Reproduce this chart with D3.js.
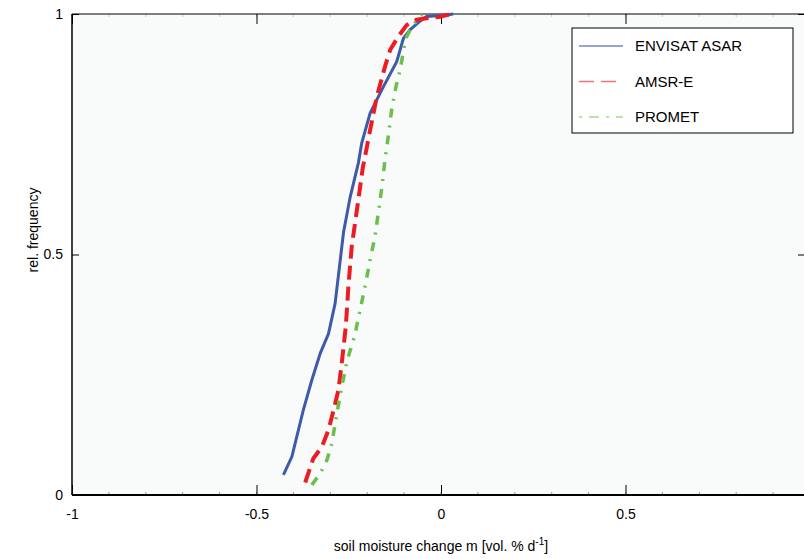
<!DOCTYPE html>
<html>
<head>
<meta charset="utf-8">
<script src="https://cdn.jsdelivr.net/npm/d3@7"></script>
<style>
  body { margin: 0; background: #fff; }
  svg { display: block; font-family: "Liberation Sans", Arial, sans-serif; }
</style>
</head>
<body>
<div id="chart"></div>
<script>
// cumulative distributions of soil moisture change
var seriesNames = ["ENVISAT ASAR", "AMSR-E", "PROMET"];
var seriesColors = ["#3f5aa8", "#ec1c24", "#6cbf4a"];
var legendColors = ["#7088c8", "#f07078", "#a2d88e"];

var asarX = [-0.427, -0.404, -0.373, -0.350, -0.327, -0.305, -0.287, -0.264, -0.246, -0.224, -0.215, -0.192, -0.156, -0.120, -0.102, -0.084, -0.057, -0.039, 0.015, 0.033];
var asarY = [0.042, 0.080, 0.177, 0.239, 0.295, 0.335, 0.398, 0.547, 0.620, 0.690, 0.731, 0.794, 0.849, 0.901, 0.949, 0.967, 0.985, 0.995, 0.998, 1.0];

var amsrX = [-0.368, -0.346, -0.323, -0.305, -0.291, -0.278, -0.269, -0.258, -0.251, -0.242, -0.228, -0.212, -0.192, -0.174, -0.152, -0.138, -0.116, -0.093, -0.066, -0.039, -0.003, 0.015, 0.038];
var amsrY = [0.026, 0.076, 0.100, 0.135, 0.177, 0.218, 0.274, 0.350, 0.433, 0.516, 0.592, 0.680, 0.759, 0.828, 0.890, 0.925, 0.953, 0.977, 0.988, 0.991, 0.994, 0.998, 1.0];

var prometX = [-0.350, -0.327, -0.309, -0.296, -0.282, -0.269, -0.255, -0.246, -0.233, -0.228, -0.206, -0.192, -0.179, -0.170, -0.160, -0.152, -0.143, -0.134, -0.122, -0.113, -0.106, -0.102, -0.093, -0.079, -0.066, -0.052];
var prometY = [0.021, 0.045, 0.073, 0.107, 0.170, 0.225, 0.277, 0.301, 0.333, 0.353, 0.433, 0.489, 0.537, 0.586, 0.641, 0.696, 0.745, 0.800, 0.849, 0.877, 0.904, 0.925, 0.953, 0.974, 0.985, 0.998];

var xTicks = [-1, -0.5, 0, 0.5];
var yTicks = [0, 0.5, 1];

var width = 804, height = 559;
var pLeft = 72, pRight = 810, pTop = 14, pBottom = 495;

var svg = d3.select("#chart").append("svg")
    .attr("width", width).attr("height", height);

var x = d3.scaleLinear().domain([-1, 1]).range([pLeft, pRight]);
var y = d3.scaleLinear().domain([0, 1]).range([pBottom, pTop]);

function fmt(d){ return String(d); }

// plot background
svg.append("rect").attr("x", pLeft).attr("y", pTop)
    .attr("width", pRight - pLeft).attr("height", pBottom - pTop)
    .attr("fill", "#f8fbfa");

// minor ticks
var minor = d3.range(-10, 10).map(function(d){ return d / 10; });
svg.append("g").selectAll("line").data(minor).enter().append("line")
    .attr("x1", function(d){ return x(d); }).attr("x2", function(d){ return x(d); })
    .attr("y1", pBottom).attr("y2", pBottom - 3)
    .attr("stroke", "#999").attr("stroke-width", 1);
svg.append("g").selectAll("line").data(minor).enter().append("line")
    .attr("x1", function(d){ return x(d); }).attr("x2", function(d){ return x(d); })
    .attr("y1", pTop).attr("y2", pTop + 3)
    .attr("stroke", "#ccc").attr("stroke-width", 1);

// bottom axis
var xAxis = svg.append("g").attr("transform", "translate(0," + pBottom + ")")
    .call(d3.axisBottom(x).tickValues(xTicks).tickSize(-10).tickPadding(14).tickFormat(fmt));
xAxis.select(".domain").remove();
xAxis.selectAll("text").attr("font-size", 14).attr("fill", "#000")
    .attr("font-family", "Liberation Sans, Arial, sans-serif");
xAxis.selectAll("line").attr("stroke", "#000");

// top ticks (inside)
var xTop = svg.append("g").attr("transform", "translate(0," + pTop + ")")
    .call(d3.axisTop(x).tickValues(xTicks).tickSize(-10).tickFormat(""));
xTop.select(".domain").remove();
xTop.selectAll("line").attr("stroke", "#000");

// left axis
var yAxis = svg.append("g").attr("transform", "translate(" + pLeft + ",0)")
    .call(d3.axisLeft(y).tickValues(yTicks).tickSize(-7).tickPadding(9).tickFormat(fmt));
yAxis.select(".domain").remove();
yAxis.selectAll("text").attr("font-size", 14).attr("fill", "#000")
    .attr("font-family", "Liberation Sans, Arial, sans-serif");
yAxis.selectAll("line").attr("stroke", "#000");

// right ticks
var yRight = svg.append("g").attr("transform", "translate(" + (pRight - 4) + ",0)")
    .call(d3.axisRight(y).tickValues(yTicks).tickSize(-8).tickFormat(""));
yRight.select(".domain").remove();
yRight.selectAll("line").attr("stroke", "#000");

// frame
svg.append("line").attr("x1", pLeft).attr("x2", pRight).attr("y1", pTop).attr("y2", pTop)
    .attr("stroke", "#000").attr("stroke-width", 1.2);
svg.append("line").attr("x1", pLeft).attr("x2", pRight).attr("y1", pBottom).attr("y2", pBottom)
    .attr("stroke", "#000").attr("stroke-width", 2);
svg.append("line").attr("x1", pLeft).attr("x2", pLeft).attr("y1", pTop).attr("y2", pBottom)
    .attr("stroke", "#000").attr("stroke-width", 1.5);

// curves
var line = d3.line().x(function(d){ return x(d[0]); }).y(function(d){ return y(d[1]); });
var curves = [d3.zip(asarX, asarY), d3.zip(amsrX, amsrY), d3.zip(prometX, prometY)];
var dashes = [null, "14,7", "9,8,2,8"];
var widths = [3, 4, 3.5];

curves.forEach(function(c, i){
    svg.append("path").datum(c).attr("d", line)
        .attr("fill", "none")
        .attr("stroke", seriesColors[i])
        .attr("stroke-width", widths[i])
        .attr("stroke-dasharray", dashes[i]);
});

// legend
var lg = svg.append("g");
lg.append("rect").attr("x", 572).attr("y", 28).attr("width", 221).attr("height", 105)
    .attr("fill", "#fff").attr("stroke", "#000").attr("stroke-width", 1);
var legendDash = [null, "15,7", "3,7,10,7"];
seriesNames.forEach(function(n, i){
    var ly = 46 + i * 35.5;
    lg.append("line").attr("x1", 579).attr("x2", 623).attr("y1", ly).attr("y2", ly)
        .attr("stroke", legendColors[i]).attr("stroke-width", 1.6)
        .attr("stroke-dasharray", legendDash[i]);
    lg.append("text").attr("x", 635).attr("y", ly + 5).text(n)
        .attr("font-size", 15).attr("fill", "#000");
});

// axis titles
var xt = svg.append("text").attr("x", 441).attr("y", 551)
    .attr("text-anchor", "middle").attr("font-size", 14).attr("fill", "#000");
xt.append("tspan").text("soil moisture change m [vol. % d");
xt.append("tspan").text("-1").attr("font-size", 10).attr("dy", -6);
xt.append("tspan").text("]").attr("dy", 6);

svg.append("text").attr("transform", "translate(38,230) rotate(-90)")
    .attr("text-anchor", "middle").attr("font-size", 14).attr("fill", "#000")
    .text("rel. frequency");
</script>
</body>
</html>
